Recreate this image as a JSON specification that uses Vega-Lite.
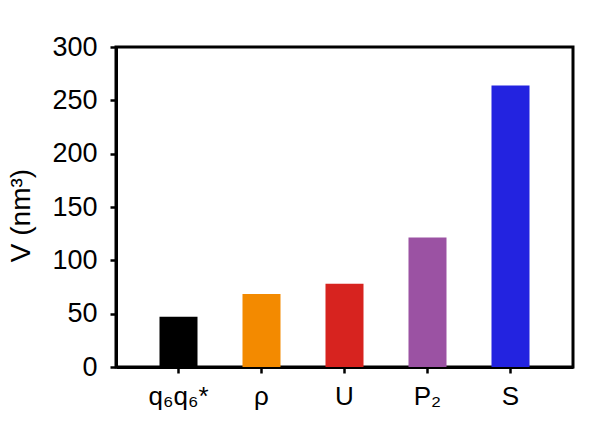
{
  "$schema": "https://vega.github.io/schema/vega-lite/v6.json",
  "autosize": {"type": "none"},
  "padding": {"left": 116, "top": 47, "right": 25, "bottom": 66},
  "width": 457,
  "height": 320,
  "background": "white",
  "config": {
    "view": {"stroke": "black", "strokeWidth": 3},
    "font": "Liberation Sans",
    "axis": {
      "domainColor": "black", "domainWidth": 3,
      "tickColor": "black", "tickWidth": 2.5, "tickSize": 6,
      "labelColor": "black", "titleColor": "black",
      "labelFont": "Liberation Sans", "titleFont": "Liberation Sans",
      "grid": false
    }
  },
  "data": {"values": [
    {"label": "q₆q₆*", "V": 47, "color": "#000000"},
    {"label": "ρ", "V": 68.5, "color": "#F38A00"},
    {"label": "U", "V": 78, "color": "#D7231F"},
    {"label": "P₂", "V": 121.5, "color": "#9B52A3"},
    {"label": "S", "V": 264, "color": "#2323E0"}
  ]},
  "mark": {"type": "bar"},
  "encoding": {
    "x": {
      "field": "label", "type": "nominal", "sort": null,
      "scale": {"paddingInner": 0.542, "paddingOuter": 0.524},
      "axis": {"title": null, "labelAngle": 0, "labelFontSize": 26, "labelPadding": 10}
    },
    "y": {
      "field": "V", "type": "quantitative",
      "scale": {"domain": [0, 300], "nice": false},
      "axis": {"title": "V (nm³)", "values": [0, 50, 100, 150, 200, 250, 300],
        "labelFontSize": 27, "labelPadding": 13, "titleFontSize": 28, "titleFontWeight": "normal", "titlePadding": 16, "titleY": 168}
    },
    "color": {"field": "color", "type": "nominal", "scale": null, "legend": null}
  }
}
